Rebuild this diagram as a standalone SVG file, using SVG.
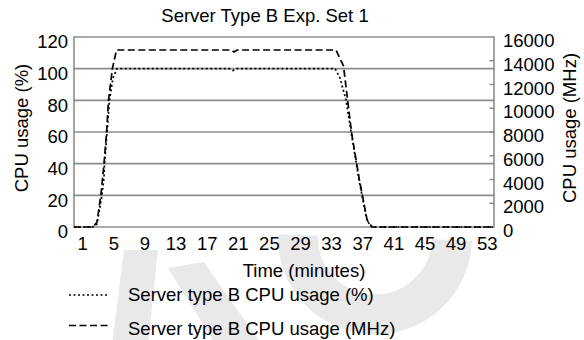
<svg xmlns="http://www.w3.org/2000/svg" width="584" height="340" viewBox="0 0 584 340">
  <style>
    text { font-family: "Liberation Sans", Arial, sans-serif; font-size: 18.5px; fill: #000; }
    .tick { font-size: 17.5px; }
    .grid { stroke: #8c8c8c; stroke-width: 1.6; fill: none; }
    .pct { stroke: #000; stroke-width: 1.7; fill: none; stroke-dasharray: 2 2.5; }
    .mhz { stroke: #000; stroke-width: 1.7; fill: none; stroke-dasharray: 7 3.5; }
    .wm { fill: #e9e9e9; stroke: none; }
    .wmline { fill: none; stroke: #e9e9e9; }
    .yl { text-anchor: end; }
    .xl { text-anchor: middle; }
  </style>
  <defs>
    <clipPath id="below-plot">
      <rect x="0" y="229" width="584" height="111"/>
    </clipPath>
  </defs>

  <!-- background mark -->
  <g id="mark" clip-path="url(#below-plot)">
    <polygon class="wm" points="112,345 148,345 158,250 124,250"/>
    <polygon class="wm" points="168,268 204,262 262,345 216,345"/>
    <path class="wmline" d="M 298 235 A 76 76 0 0 0 452 240" stroke-width="40"/>
  </g>

  <text id="title" x="265" y="21.7" class="xl">Server Type B Exp. Set 1</text>

  <!-- plot frame and gridlines -->
  <g id="grid">
    <line class="grid" x1="74" y1="37" x2="494" y2="37"/>
    <line class="grid" x1="74" y1="68.67" x2="494" y2="68.67"/>
    <line class="grid" x1="74" y1="100.33" x2="494" y2="100.33"/>
    <line class="grid" x1="74" y1="132" x2="494" y2="132"/>
    <line class="grid" x1="74" y1="163.67" x2="494" y2="163.67"/>
    <line class="grid" x1="74" y1="195.33" x2="494" y2="195.33"/>
    <line class="grid" x1="74" y1="227" x2="494" y2="227"/>
    <line class="grid" x1="74" y1="36.2" x2="74" y2="227.8"/>
    <line class="grid" x1="494" y1="36.2" x2="494" y2="227.8"/>
    <!-- right axis ticks -->
    <path class="grid" d="M489.5 203.25H494M489.5 179.5H494M489.5 155.75H494M489.5 132H494M489.5 108.25H494M489.5 84.5H494M489.5 60.75H494"/>
  </g>

  <!-- left axis -->
  <g id="axis-left">
    <g class="tick yl">
      <text x="68" y="48.3">120</text>
      <text x="68" y="80">100</text>
      <text x="68" y="111.6">80</text>
      <text x="68" y="143.3">60</text>
      <text x="68" y="175">40</text>
      <text x="68" y="206.6">20</text>
      <text x="68" y="238.3">0</text>
    </g>
    <text transform="translate(28 128) rotate(-90)" class="xl">CPU usage (%)</text>
  </g>

  <!-- right axis -->
  <g id="axis-right">
    <g class="tick">
      <text x="503" y="47">16000</text>
      <text x="503" y="70.8">14000</text>
      <text x="503" y="94.5">12000</text>
      <text x="503" y="118.3">10000</text>
      <text x="503" y="142">8000</text>
      <text x="503" y="165.8">6000</text>
      <text x="503" y="189.5">4000</text>
      <text x="503" y="213.3">2000</text>
      <text x="503" y="237">0</text>
    </g>
    <text transform="translate(576 128) rotate(-90)" class="xl">CPU usage (MHz)</text>
  </g>

  <!-- time axis -->
  <g id="axis-bottom" class="xl">
    <g class="tick">
      <text x="82.7" y="250">1</text>
      <text x="113.8" y="250">5</text>
      <text x="144.9" y="250">9</text>
      <text x="176.0" y="250">13</text>
      <text x="207.2" y="250">17</text>
      <text x="238.3" y="250">21</text>
      <text x="269.4" y="250">25</text>
      <text x="300.5" y="250">29</text>
      <text x="331.6" y="250">33</text>
      <text x="362.7" y="250">37</text>
      <text x="393.9" y="250">41</text>
      <text x="425.0" y="250">45</text>
      <text x="456.1" y="250">49</text>
      <text x="487.2" y="250">53</text>
    </g>
    <text x="304" y="276.5">Time (minutes)</text>
  </g>

  <!-- data series -->
  <g id="connectors">
    <polyline id="series-mhz" class="mhz" points="74,227 93,227 97,222 101,194 104,164 106.5,133 108.5,100 112.5,68 116.5,50 231,50 234,52 237,50 336,50 343.5,66 351.6,133 359.4,180 367.1,220 372,227 493,227"/>
    <polyline id="series-pct" class="pct" points="74,227 93,227 97,224 101.5,198 104,178 104.5,164 107,133 109.5,100 113,78 117,68.6 229,68.6 233,70.5 237,68.6 335,68.6 340,78 346,100 351.6,135 359.4,182 367.1,221 372,227 493,227"/>
  </g>

  <!-- legend -->
  <g id="legend">
    <line class="pct" x1="69" y1="295" x2="109" y2="295"/>
    <text x="128" y="300.5">Server type B CPU usage (%)</text>
    <line class="mhz" x1="69" y1="325.5" x2="109" y2="325.5"/>
    <text x="128" y="335">Server type B CPU usage (MHz)</text>
  </g>
</svg>
